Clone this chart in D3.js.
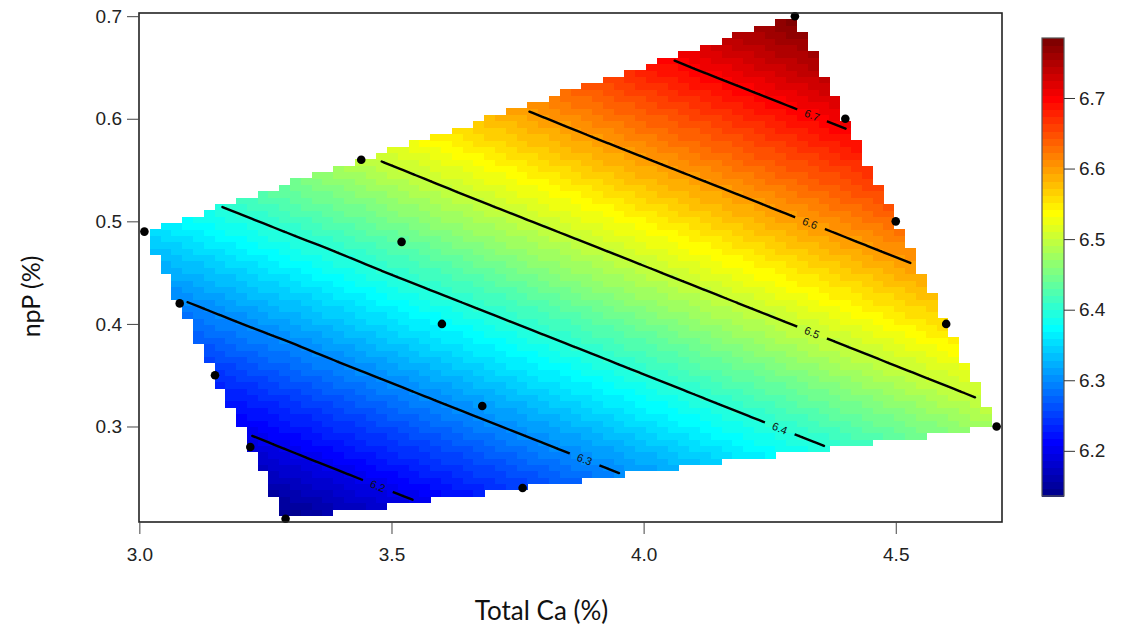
<!DOCTYPE html>
<html>
<head>
<meta charset="utf-8">
<script src="https://cdn.jsdelivr.net/npm/d3@7"></script>
<style>
  body { margin: 0; background: #fff; }
  svg { display: block; }
</style>
</head>
<body>
<svg id="chart" width="1124" height="632"></svg>
<script>
// measured samples (Total Ca %, npP %, response)
const totalCa = [3.01, 3.08, 3.15, 3.22, 3.29, 3.44, 3.52, 3.60, 3.68, 3.76, 4.30, 4.40, 4.50, 4.60, 4.70];
const npP     = [0.49, 0.42, 0.35, 0.28, 0.21, 0.56, 0.48, 0.40, 0.32, 0.24, 0.70, 0.60, 0.50, 0.40, 0.30];
const ph      = [6.349, 6.296, 6.243, 6.189, 6.136, 6.494, 6.434, 6.373, 6.312, 6.251, 6.785, 6.709, 6.633, 6.557, 6.481];

const xTicks = [3.0, 3.5, 4.0, 4.5];
const yTicks = [0.3, 0.4, 0.5, 0.6, 0.7];
const levels = [6.2, 6.3, 6.4, 6.5, 6.6, 6.7];
// where along each contour (in Total Ca) the level label sits
const labelCa = [3.473, 3.883, 4.270, 4.334, 4.330, 4.334];

// tim.colors(64) anchors
const paletteStops = ["#00008F", "#0000FF", "#00FFFF", "#FFFF00", "#FF0000", "#800000"];
const paletteIdx = [0, 7, 23, 39, 55, 63];

const gridN = 80;
const width = 1124, height = 632;
const box = { left: 139, right: 1002, top: 13, bottom: 522 };
const bar = { left: 1042, right: 1064, top: 38, bottom: 496 };

const svg = d3.select("#chart");

// interpolation grid
const x0 = d3.min(totalCa), x1 = d3.max(totalCa);
const y0 = d3.min(npP), y1 = d3.max(npP);
const dx = (x1 - x0) / (gridN - 1), dy = (y1 - y0) / (gridN - 1);
const gx = d3.range(gridN).map(i => x0 + i * dx);
const gy = d3.range(gridN).map(j => y0 + j * dy);

const xScale = d3.scaleLinear().domain([x0 - dx / 2, x1 + dx / 2]).range([box.left, box.right]);
const yScale = d3.scaleLinear().domain([y0 - dy / 2, y1 + dy / 2]).range([box.bottom, box.top]);

// linear interpolation over the Delaunay triangulation
const pts = totalCa.map((x, i) => [x, npP[i]]);
const delaunay = d3.Delaunay.from(pts);
const tris = [];
for (let t = 0; t < delaunay.triangles.length; t += 3) {
  tris.push([delaunay.triangles[t], delaunay.triangles[t + 1], delaunay.triangles[t + 2]]);
}
function interp(x, y) {
  const eps = 1e-9;
  for (const [a, b, c] of tris) {
    const [xa, ya] = pts[a], [xb, yb] = pts[b], [xc, yc] = pts[c];
    const det = (yb - yc) * (xa - xc) + (xc - xb) * (ya - yc);
    if (Math.abs(det) < 1e-12) continue;
    const l1 = ((yb - yc) * (x - xc) + (xc - xb) * (y - yc)) / det;
    const l2 = ((yc - ya) * (x - xc) + (xa - xc) * (y - yc)) / det;
    const l3 = 1 - l1 - l2;
    if (l1 >= -eps && l2 >= -eps && l3 >= -eps) return l1 * ph[a] + l2 * ph[b] + l3 * ph[c];
  }
  return NaN;
}
const Z = gy.map(y => gx.map(x => interp(x, y)));

const zmin = d3.min(ph), zmax = d3.max(ph);
const jet = d3.scaleLinear().domain(paletteIdx).range(paletteStops).interpolate(d3.interpolateRgb);
const colors = d3.range(64).map(i => jet(i));
const colorOf = z => colors[Math.max(0, Math.min(63, Math.floor((z - zmin) / (zmax - zmin) * 64)))];

// raster cells
const cells = [];
gy.forEach((y, j) => gx.forEach((x, i) => {
  if (!isNaN(Z[j][i])) cells.push({ x, y, z: Z[j][i] });
}));
svg.append("g")
  .attr("shape-rendering", "crispEdges")
  .selectAll("rect")
  .data(cells)
  .join("rect")
  .attr("x", d => xScale(d.x - dx / 2))
  .attr("y", d => yScale(d.y + dy / 2))
  .attr("width", d => xScale(d.x + dx / 2) - xScale(d.x - dx / 2) + 0.3)
  .attr("height", d => yScale(d.y - dy / 2) - yScale(d.y + dy / 2) + 0.3)
  .attr("fill", d => colorOf(d.z));

// marching squares on the grid nodes
function isoSegments(level) {
  const segs = [];
  for (let j = 0; j < gridN - 1; j++) {
    for (let i = 0; i < gridN - 1; i++) {
      const corners = [
        [gx[i], gy[j], Z[j][i]],
        [gx[i + 1], gy[j], Z[j][i + 1]],
        [gx[i + 1], gy[j + 1], Z[j + 1][i + 1]],
        [gx[i], gy[j + 1], Z[j + 1][i]]
      ];
      if (corners.some(c => isNaN(c[2]))) continue;
      const hit = [];
      for (let k = 0; k < 4; k++) {
        const p = corners[k], q = corners[(k + 1) % 4];
        if ((p[2] < level) !== (q[2] < level)) {
          const t = (level - p[2]) / (q[2] - p[2]);
          hit.push([p[0] + t * (q[0] - p[0]), p[1] + t * (q[1] - p[1])]);
        }
      }
      if (hit.length >= 2) segs.push([hit[0], hit[1]]);
      if (hit.length === 4) segs.push([hit[2], hit[3]]);
    }
  }
  return segs.map(s => s.map(([x, y]) => [xScale(x), yScale(y)]));
}

const contourData = levels.map((lv, k) => {
  const segs = isoSegments(lv);
  const mids = segs.map(s => [(s[0][0] + s[1][0]) / 2, (s[0][1] + s[1][1]) / 2]);
  const mx = d3.mean(mids, m => m[0]), my = d3.mean(mids, m => m[1]);
  const slope = d3.sum(mids, m => (m[0] - mx) * (m[1] - my)) / d3.sum(mids, m => (m[0] - mx) ** 2);
  const lx = xScale(labelCa[k]);
  const seg = segs.find(s => (s[0][0] - lx) * (s[1][0] - lx) <= 0) || segs[0];
  const t = seg[1][0] === seg[0][0] ? 0 : (lx - seg[0][0]) / (seg[1][0] - seg[0][0]);
  const ly = seg[0][1] + t * (seg[1][1] - seg[0][1]);
  return { level: lv, segs, lx, ly, angle: Math.atan(slope) * 180 / Math.PI };
});

const defs = svg.append("defs");
const mask = defs.append("mask").attr("id", "labelGap")
  .attr("maskUnits", "userSpaceOnUse")
  .attr("x", 0).attr("y", 0).attr("width", width).attr("height", height);
mask.append("rect").attr("width", width).attr("height", height).attr("fill", "#fff");
mask.selectAll("rect.gap")
  .data(contourData)
  .join("rect")
  .attr("class", "gap")
  .attr("x", -16).attr("y", -7).attr("width", 32).attr("height", 14)
  .attr("transform", d => `translate(${d.lx},${d.ly}) rotate(${d.angle})`)
  .attr("fill", "#000");

svg.append("g")
  .attr("mask", "url(#labelGap)")
  .selectAll("path")
  .data(contourData)
  .join("path")
  .attr("d", d => d.segs.map(s => `M${s[0][0]},${s[0][1]}L${s[1][0]},${s[1][1]}`).join(""))
  .attr("fill", "none")
  .attr("stroke", "#000")
  .attr("stroke-width", 2.4)
  .attr("stroke-linecap", "round");

svg.append("g")
  .selectAll("text")
  .data(contourData)
  .join("text")
  .attr("transform", d => `translate(${d.lx},${d.ly}) rotate(${d.angle})`)
  .attr("text-anchor", "middle")
  .attr("dy", "0.35em")
  .attr("font-family", "Liberation Sans, Arial, sans-serif")
  .attr("font-size", 11)
  .attr("fill", "#111")
  .text(d => d3.format(".1f")(d.level));

// observations
svg.append("g")
  .selectAll("circle")
  .data(pts)
  .join("circle")
  .attr("cx", d => xScale(d[0]))
  .attr("cy", d => yScale(d[1]))
  .attr("r", 4.3)
  .attr("fill", "#000");

// frame
svg.append("rect")
  .attr("x", box.left).attr("y", box.top)
  .attr("width", box.right - box.left).attr("height", box.bottom - box.top)
  .attr("fill", "none")
  .attr("stroke", "#222")
  .attr("stroke-width", 1.6);

const tickFont = g => g.selectAll("text")
  .attr("font-family", "Liberation Sans, Arial, sans-serif")
  .attr("font-size", 19)
  .attr("fill", "#222");

svg.append("g")
  .attr("transform", `translate(0,${box.bottom})`)
  .call(d3.axisBottom(xScale).tickValues(xTicks).tickFormat(d3.format(".1f")).tickSize(12).tickPadding(14))
  .call(g => g.select(".domain").remove())
  .call(g => g.selectAll("line").attr("stroke", "#444"))
  .call(tickFont);

svg.append("g")
  .attr("transform", `translate(${box.left},0)`)
  .call(d3.axisLeft(yScale).tickValues(yTicks).tickFormat(d3.format(".1f")).tickSize(12).tickPadding(5))
  .call(g => g.select(".domain").remove())
  .call(g => g.selectAll("line").attr("stroke", "#444"))
  .call(tickFont);

// colour bar
const zScale = d3.scaleLinear().domain([zmin, zmax]).range([bar.bottom, bar.top]);
const bandH = (bar.bottom - bar.top) / 64;
svg.append("g")
  .attr("shape-rendering", "crispEdges")
  .selectAll("rect")
  .data(colors)
  .join("rect")
  .attr("x", bar.left)
  .attr("y", (d, i) => bar.bottom - (i + 1) * bandH)
  .attr("width", bar.right - bar.left)
  .attr("height", bandH + 0.5)
  .attr("fill", d => d);
svg.append("rect")
  .attr("x", bar.left).attr("y", bar.top)
  .attr("width", bar.right - bar.left).attr("height", bar.bottom - bar.top)
  .attr("fill", "none").attr("stroke", "#555").attr("stroke-width", 1.2);
svg.append("g")
  .attr("transform", `translate(${bar.right},0)`)
  .call(d3.axisRight(zScale).tickValues(levels).tickFormat(d3.format(".1f")).tickSize(11).tickPadding(4))
  .call(g => g.select(".domain").remove())
  .call(g => g.selectAll("line").attr("stroke", "#333"))
  .call(tickFont);

// axis titles
svg.append("text")
  .attr("x", (box.left + box.right) / 2 - 29)
  .attr("y", 610)
  .attr("text-anchor", "middle")
  .attr("dominant-baseline", "central")
  .attr("font-family", "Lato, Open Sans, sans-serif")
  .attr("font-size", 26)
  .attr("fill", "#111")
  .text("Total Ca (%)");

svg.append("text")
  .attr("transform", `translate(30,${(box.top + box.bottom) / 2 + 29}) rotate(-90)`)
  .attr("text-anchor", "middle")
  .attr("dominant-baseline", "central")
  .attr("font-family", "Lato, Open Sans, sans-serif")
  .attr("font-size", 25)
  .attr("fill", "#111")
  .text("npP (%)");
</script>
</body>
</html>
